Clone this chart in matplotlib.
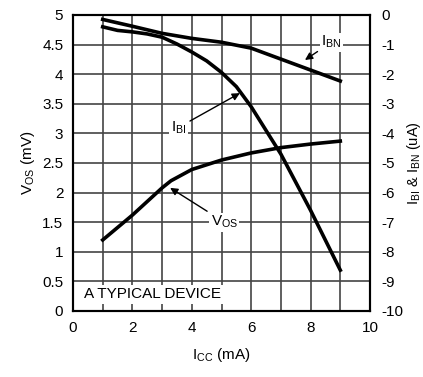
import matplotlib
matplotlib.use("Agg")
import matplotlib.pyplot as plt

plt.rcParams['font.family'] = ['Liberation Sans', 'DejaVu Sans']
plt.rcParams['axes.unicode_minus'] = False

# datos
icc = [1, 2, 3, 3.3, 4, 5, 6, 7, 8, 9]
vos = [1.20, 1.62, 2.08, 2.20, 2.39, 2.55, 2.67, 2.76, 2.82, 2.87]

ibn_x = [1, 2, 3, 4, 5, 6, 7, 8, 9]
ibn = [-0.15, -0.38, -0.62, -0.79, -0.92, -1.12, -1.49, -1.86, -2.23]

ibi_x = [1, 1.5, 2, 2.5, 3, 3.5, 4, 4.5, 5, 5.5, 6, 6.5, 7, 8, 9]
ibi = [-0.4, -0.52, -0.57, -0.64, -0.75, -0.98, -1.25, -1.55, -1.94, -2.42, -3.1, -3.9, -4.7, -6.6, -8.62]

fig = plt.figure(figsize=(4.23, 3.77), dpi=100)
ax = fig.add_axes([73/423, 1 - 311/377, 297/423, 296/377])
ax2 = ax.twinx()

ax.set_xlim(0, 10)
ax.set_ylim(0, 5)
ax2.set_ylim(-10, 0)
ax.set_xticks(range(0, 11, 2))
ax.set_xticks(range(0, 11), minor=True)
ax.set_yticks([i * 0.5 for i in range(11)])
ax.set_yticklabels(['0', '0.5', '1', '1.5', '2', '2.5', '3', '3.5', '4', '4.5', '5'])
ax2.set_yticks(range(-10, 1))
ax.grid(True, which='both', color='#444444', linewidth=1.2)
ax.tick_params(which='both', length=0, labelsize=11, pad=7)
ax2.tick_params(length=0, labelsize=11, pad=8)
for a in (ax, ax2):
    for s in a.spines.values():
        s.set_linewidth(1.5)
ax.set_axisbelow(True)

ax.plot(icc, vos, color='black', linewidth=2.6, zorder=3)
ax2.plot(ibn_x, ibn, color='black', linewidth=2.6)
ax2.plot(ibi_x, ibi, color='black', linewidth=2.6)

box = dict(facecolor='white', edgecolor='none', pad=1)
arr = dict(arrowstyle='-|>', color='black', lw=1, mutation_scale=11, shrinkA=2, shrinkB=0)
ax.annotate('$\\mathregular{I_{BN}}$', xy=(7.81, 4.24), xytext=(8.7, 4.54), fontsize=11,
            ha='center', va='center', bbox=box, arrowprops=arr, zorder=5)
ax.annotate('$\\mathregular{I_{BI}}$', xy=(5.62, 3.68), xytext=(3.55, 3.1), fontsize=11,
            ha='center', va='center', bbox=box, arrowprops=arr, zorder=5)
ax.annotate('$\\mathregular{V_{OS}}$', xy=(3.27, 2.08), xytext=(5.1, 1.5), fontsize=11,
            ha='center', va='center', bbox=box, arrowprops=arr, zorder=5)
ax.text(0.36, 0.28, 'A TYPICAL DEVICE', fontsize=11, ha='left', va='center',
        bbox=dict(facecolor='white', edgecolor='none', pad=1.5), zorder=5)

ax.set_xlabel('$\\mathregular{I_{CC}}$ (mA)', fontsize=11, labelpad=8)
ax.set_ylabel('$\\mathregular{V_{OS}}$ (mV)', fontsize=11, labelpad=4)
ax2.set_ylabel('$\\mathregular{I_{BI}}$ & $\\mathregular{I_{BN}}$ (uA)', fontsize=10.5, labelpad=1)

fig.savefig('out.png', dpi=100)
